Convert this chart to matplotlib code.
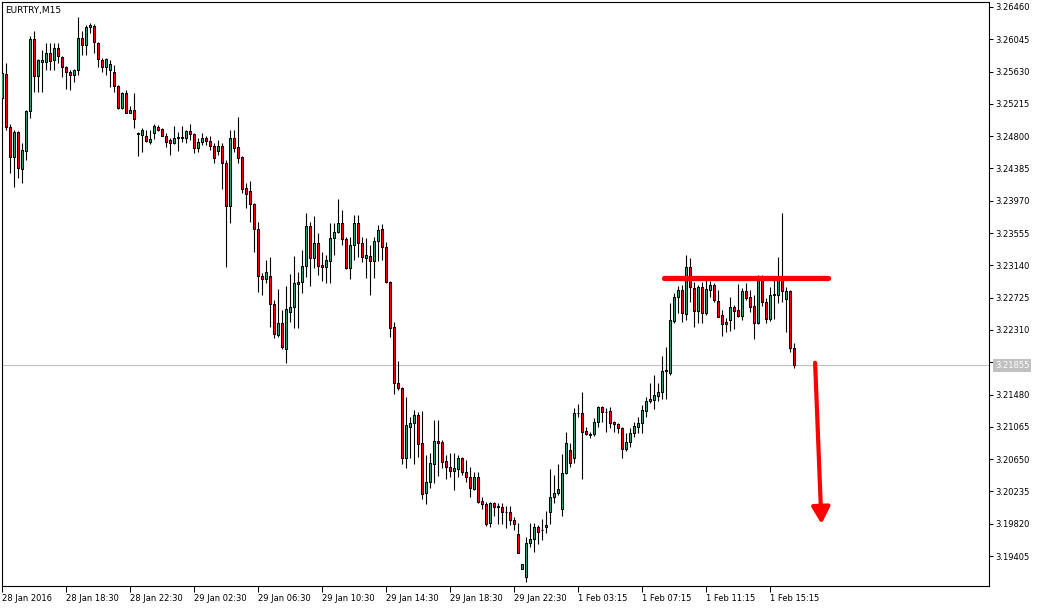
import matplotlib
matplotlib.use("Agg")
import matplotlib.pyplot as plt

symbol = "EURTRY,M15"

opens = [
    3.25291, 3.25599, 3.24918, 3.24533, 3.24854, 3.24378, 3.24610, 3.25124, 3.26049, 3.25573,
    3.25753, 3.25753, 3.25869, 3.25779, 3.25933, 3.25818, 3.25689, 3.25625, 3.25586, 3.25650,
    3.26062, 3.25972, 3.26203, 3.26216, 3.25997, 3.25779, 3.25689, 3.25650, 3.25625, 3.25445,
    3.25162, 3.25355, 3.25098, 3.25136, 3.24841, 3.24815, 3.24802, 3.24725, 3.24841, 3.24918,
    3.24892, 3.24802, 3.24751, 3.24712, 3.24777, 3.24777, 3.24777, 3.24867, 3.24828, 3.24648,
    3.24725, 3.24777, 3.24738, 3.24674, 3.24610, 3.24674, 3.24455, 3.23903, 3.24777, 3.24661,
    3.24533, 3.24134, 3.24096, 3.23929, 3.23607, 3.23003, 3.22965, 3.23003, 3.22644, 3.22245,
    3.22399, 3.22065, 3.22541, 3.22605, 3.22901, 3.22926, 3.23132, 3.23646, 3.23235, 3.23427,
    3.23145, 3.23119, 3.23196, 3.23492, 3.23569, 3.23684, 3.23479, 3.23106, 3.23402, 3.23684,
    3.23427, 3.23235, 3.23260, 3.23196, 3.23453, 3.23607, 3.23376, 3.22926, 3.22348, 3.21628,
    3.21564, 3.20665, 3.21063, 3.21114, 3.21217, 3.20857, 3.20215, 3.20356, 3.20588, 3.20883,
    3.20870, 3.20626, 3.20549, 3.20498, 3.20523, 3.20665, 3.20485, 3.20420, 3.20266, 3.20420,
    3.20112, 3.20074, 3.19829, 3.20086, 3.20048, 3.20035, 3.19971, 3.19971, 3.19868, 3.19688,
    3.19238, 3.19136, 3.19572, 3.19624, 3.19778, 3.19739, 3.19778, 3.19971, 3.20164, 3.20215,
    3.20009, 3.20472, 3.20767, 3.20665, 3.21243, 3.21243, 3.21012, 3.20973, 3.20973, 3.21127,
    3.21320, 3.21256, 3.21269, 3.21127, 3.21102, 3.21050, 3.20780, 3.20870, 3.20986, 3.21063,
    3.21114, 3.21269, 3.21397, 3.21410, 3.21461, 3.21513, 3.21783, 3.21757, 3.22425, 3.22734,
    3.22823, 3.22515, 3.23119, 3.22849, 3.22554, 3.22862, 3.22528, 3.22823, 3.22888, 3.22682,
    3.22502, 3.22412, 3.22438, 3.22605, 3.22566, 3.22489, 3.22811, 3.22734, 3.22618, 3.22399,
    3.22978, 3.22669, 3.22451, 3.22759, 3.22759, 3.22978, 3.22708, 3.22811, 3.22078,
]

highs = [
    3.25650, 3.25740, 3.24957, 3.24879, 3.24867, 3.24712, 3.25136, 3.26087, 3.26152, 3.25792,
    3.25907, 3.25997, 3.25997, 3.25997, 3.25997, 3.25830, 3.25702, 3.25650, 3.25663, 3.26332,
    3.26152, 3.26229, 3.26254, 3.26242, 3.26010, 3.25805, 3.25805, 3.25779, 3.25715, 3.25458,
    3.25368, 3.25393, 3.25188, 3.25355, 3.24854, 3.24905, 3.24879, 3.24879, 3.24957, 3.24944,
    3.24905, 3.24841, 3.24777, 3.24931, 3.24854, 3.24931, 3.24879, 3.24957, 3.24841, 3.24777,
    3.24841, 3.24802, 3.24802, 3.24712, 3.24751, 3.24712, 3.24494, 3.24879, 3.24879, 3.25047,
    3.24545, 3.24198, 3.24224, 3.23941, 3.23697, 3.23042, 3.23209, 3.23248, 3.22695, 3.22836,
    3.22566, 3.22875, 3.23029, 3.23260, 3.23055, 3.23337, 3.23813, 3.23697, 3.23774, 3.23556,
    3.23312, 3.23273, 3.23684, 3.23684, 3.23993, 3.23851, 3.23505, 3.23505, 3.23787, 3.23787,
    3.23505, 3.23492, 3.23402, 3.23505, 3.23659, 3.23672, 3.23440, 3.22939, 3.22412, 3.21911,
    3.21577, 3.21449, 3.21192, 3.21281, 3.21256, 3.21269, 3.20703, 3.20729, 3.21153, 3.21153,
    3.20896, 3.20703, 3.20729, 3.20729, 3.20703, 3.20678, 3.20639, 3.20549, 3.20485, 3.20485,
    3.20164, 3.20099, 3.20099, 3.20099, 3.20086, 3.20086, 3.20048, 3.20048, 3.19907, 3.19829,
    3.19303, 3.19650, 3.19829, 3.19829, 3.19804, 3.19881, 3.19984, 3.20523, 3.20446, 3.20588,
    3.20716, 3.20999, 3.20857, 3.21307, 3.21359, 3.21513, 3.21063, 3.20999, 3.21179, 3.21333,
    3.21333, 3.21307, 3.21320, 3.21140, 3.21114, 3.21063, 3.20986, 3.21050, 3.21127, 3.21192,
    3.21346, 3.21449, 3.21628, 3.21731, 3.21628, 3.21975, 3.22091, 3.22656, 3.22785, 3.22875,
    3.22888, 3.23273, 3.23235, 3.22926, 3.22888, 3.22926, 3.22952, 3.22939, 3.22913, 3.22823,
    3.22566, 3.22464, 3.22734, 3.22631, 3.22901, 3.22849, 3.22913, 3.22823, 3.22759, 3.23016,
    3.23016, 3.22721, 3.22862, 3.22978, 3.23248, 3.23813, 3.22862, 3.22823, 3.22142,
]

lows = [
    3.25265, 3.24879, 3.24327, 3.24147, 3.24263, 3.24198, 3.24494, 3.25034, 3.25368, 3.25368,
    3.25368, 3.25650, 3.25650, 3.25650, 3.25740, 3.25561, 3.25406, 3.25393, 3.25496, 3.25586,
    3.25843, 3.25843, 3.26126, 3.25869, 3.25689, 3.25625, 3.25586, 3.25432, 3.25368, 3.25149,
    3.25149, 3.25098, 3.25098, 3.24905, 3.24545, 3.24597, 3.24725, 3.24700, 3.24764, 3.24867,
    3.24802, 3.24661, 3.24558, 3.24700, 3.24610, 3.24725, 3.24712, 3.24751, 3.24584, 3.24597,
    3.24687, 3.24687, 3.24622, 3.24455, 3.24558, 3.24121, 3.23119, 3.23684, 3.24597, 3.24455,
    3.24070, 3.23877, 3.23697, 3.23312, 3.22798, 3.22759, 3.22913, 3.22348, 3.22207, 3.22220,
    3.22065, 3.21885, 3.22412, 3.22335, 3.22335, 3.22785, 3.22991, 3.22875, 3.23106, 3.23016,
    3.22939, 3.22913, 3.22913, 3.23273, 3.23556, 3.23402, 3.23093, 3.22965, 3.23209, 3.23248,
    3.23183, 3.22978, 3.22759, 3.22978, 3.23196, 3.23209, 3.22913, 3.22220, 3.21487, 3.21538,
    3.20588, 3.20536, 3.20665, 3.20588, 3.20678, 3.20138, 3.20074, 3.20279, 3.20343, 3.20433,
    3.20536, 3.20395, 3.20420, 3.20253, 3.20420, 3.20446, 3.20356, 3.20164, 3.20253, 3.20086,
    3.20009, 3.19791, 3.19778, 3.19919, 3.19817, 3.19817, 3.19765, 3.19804, 3.19739, 3.19444,
    3.19238, 3.19071, 3.19521, 3.19457, 3.19560, 3.19611, 3.19701, 3.19817, 3.20086, 3.20189,
    3.19919, 3.20459, 3.20549, 3.20600, 3.21192, 3.20395, 3.20960, 3.20922, 3.20947, 3.21063,
    3.21127, 3.20999, 3.21050, 3.20999, 3.20986, 3.20665, 3.20755, 3.20806, 3.20935, 3.20986,
    3.20986, 3.21192, 3.21371, 3.21294, 3.21397, 3.21423, 3.21423, 3.21731, 3.22399, 3.22528,
    3.22412, 3.22438, 3.22669, 3.22348, 3.22399, 3.22399, 3.22502, 3.22734, 3.22669, 3.22477,
    3.22232, 3.22284, 3.22297, 3.22322, 3.22477, 3.22438, 3.22695, 3.22541, 3.22194, 3.22387,
    3.22618, 3.22399, 3.22425, 3.22451, 3.22656, 3.22669, 3.22284, 3.22027, 3.21821,
]

closes = [
    3.25612, 3.24918, 3.24533, 3.24854, 3.24391, 3.24622, 3.25124, 3.26049, 3.25573, 3.25779,
    3.25779, 3.25869, 3.25766, 3.25933, 3.25830, 3.25689, 3.25625, 3.25586, 3.25650, 3.26062,
    3.25972, 3.26203, 3.26229, 3.26010, 3.25792, 3.25689, 3.25792, 3.25728, 3.25445, 3.25162,
    3.25355, 3.25098, 3.25136, 3.25021, 3.24828, 3.24879, 3.24738, 3.24764, 3.24931, 3.24879,
    3.24802, 3.24725, 3.24712, 3.24777, 3.24790, 3.24790, 3.24867, 3.24828, 3.24648, 3.24725,
    3.24777, 3.24738, 3.24674, 3.24520, 3.24674, 3.24455, 3.23903, 3.24777, 3.24648, 3.24520,
    3.24121, 3.24057, 3.23929, 3.23607, 3.23003, 3.22965, 3.23055, 3.22644, 3.22258, 3.22399,
    3.22091, 3.22579, 3.22605, 3.22913, 3.22926, 3.23132, 3.23646, 3.23235, 3.23427, 3.23132,
    3.23119, 3.23209, 3.23492, 3.23569, 3.23684, 3.23479, 3.23106, 3.23402, 3.23684, 3.23427,
    3.23248, 3.23273, 3.23196, 3.23453, 3.23594, 3.23376, 3.22926, 3.22335, 3.21628, 3.21564,
    3.20665, 3.21089, 3.21114, 3.21217, 3.20845, 3.20202, 3.20356, 3.20600, 3.20883, 3.20857,
    3.20613, 3.20549, 3.20498, 3.20536, 3.20665, 3.20485, 3.20420, 3.20279, 3.20420, 3.20099,
    3.20074, 3.19817, 3.20086, 3.20035, 3.20035, 3.19971, 3.19971, 3.19868, 3.19817, 3.19444,
    3.19303, 3.19572, 3.19624, 3.19778, 3.19714, 3.19739, 3.19804, 3.20164, 3.20215, 3.20266,
    3.20472, 3.20857, 3.20600, 3.21243, 3.21243, 3.20999, 3.20973, 3.20960, 3.21127, 3.21320,
    3.21256, 3.21256, 3.21114, 3.21102, 3.21050, 3.20780, 3.20870, 3.20986, 3.21076, 3.21114,
    3.21281, 3.21397, 3.21423, 3.21474, 3.21513, 3.21783, 3.21795, 3.22438, 3.22734, 3.22823,
    3.22528, 3.23119, 3.22862, 3.22554, 3.22862, 3.22528, 3.22836, 3.22888, 3.22695, 3.22477,
    3.22387, 3.22387, 3.22605, 3.22554, 3.22489, 3.22811, 3.22721, 3.22605, 3.22399, 3.22978,
    3.22669, 3.22451, 3.22759, 3.22772, 3.22978, 3.22811, 3.22811, 3.22078, 3.21855,
]

time_labels = [
    "28 Jan 2016", "28 Jan 18:30", "28 Jan 22:30", "29 Jan 02:30", "29 Jan 06:30",
    "29 Jan 10:30", "29 Jan 14:30", "29 Jan 18:30", "29 Jan 22:30", "1 Feb 03:15",
    "1 Feb 07:15", "1 Feb 11:15", "1 Feb 15:15",
]
bars_per_label = 16

price_ticks = [
    3.26460, 3.26045, 3.25630, 3.25215, 3.24800, 3.24385, 3.23970, 3.23555, 3.23140,
    3.22725, 3.22310, 3.21895, 3.21480, 3.21065, 3.20650, 3.20235, 3.19820, 3.19405,
]

last_price = 3.21855
resistance = 3.22978
resistance_bars = (165.5, 206.4)
arrow_from = (203.2, 3.21889)
arrow_to = (204.8, 3.19817)

BULL = "#32a46e"
BEAR = "#ff0000"

fig = plt.figure(figsize=(10.45, 6.08), dpi=100)
ax = fig.add_axes([2 / 1045, 22 / 608, 987 / 1045, 584 / 608])

n = len(opens)
xs = list(range(n))
body_bottom = [min(o, c) for o, c in zip(opens, closes)]
body_height = [abs(c - o) for o, c in zip(opens, closes)]
body_color = [BULL if c > o else BEAR for o, c in zip(opens, closes)]

ax.axhline(last_price, color="#c0c0c0", lw=0.8, zorder=1)
ax.vlines(xs, lows, highs, color="black", lw=0.8, zorder=2)
ax.bar(xs, body_height, bottom=body_bottom, width=0.5, color=body_color,
       edgecolor="black", linewidth=0.75, zorder=3)

# hand drawn level and arrow
ax.plot(resistance_bars, [resistance, resistance], color="red", lw=3.8,
        solid_capstyle="round", zorder=4)
ax.annotate("", xy=arrow_to, xytext=arrow_from,
            arrowprops=dict(arrowstyle="-|>,head_length=1.0,head_width=0.55",
                            color="red", lw=3, shrinkA=0, shrinkB=0), zorder=4)

ax.set_xlim(-0.075, 246.675)
ax.set_ylim(3.19020, 3.26524)

ax.set_xticks(range(0, bars_per_label * len(time_labels), bars_per_label))
ax.set_xticklabels(time_labels)
for lbl in ax.get_xticklabels():
    lbl.set_horizontalalignment("left")
ax.tick_params(axis="x", direction="out", length=4, width=0.75, pad=1.5,
               labelsize=6, colors="black")

# the level that sits under the last price box gets no text, as in the terminal
ax.yaxis.tick_right()
ax.set_yticks(price_ticks)
ax.set_yticklabels(["" if abs(p - last_price) < 0.001 else f"{p:.5f}" for p in price_ticks])
ax.tick_params(axis="y", direction="out", length=3, width=0.75, pad=1.5,
               labelsize=6, colors="black")

for s in ax.spines.values():
    s.set_linewidth(0.8)
    s.set_color("black")

ax.text(0.003, 0.993, symbol, transform=ax.transAxes, ha="left", va="top",
        fontsize=6.5)

ax.annotate(f"{last_price:.5f}", xy=(1, last_price), xycoords=("axes fraction", "data"),
            xytext=(6, 0), textcoords="offset pixels", ha="left", va="center",
            fontsize=6, color="white", annotation_clip=False, zorder=10,
            bbox=dict(boxstyle="square,pad=0.2", fc="#c0c0c0", ec="none"))

fig.savefig("out.png", dpi=100)
